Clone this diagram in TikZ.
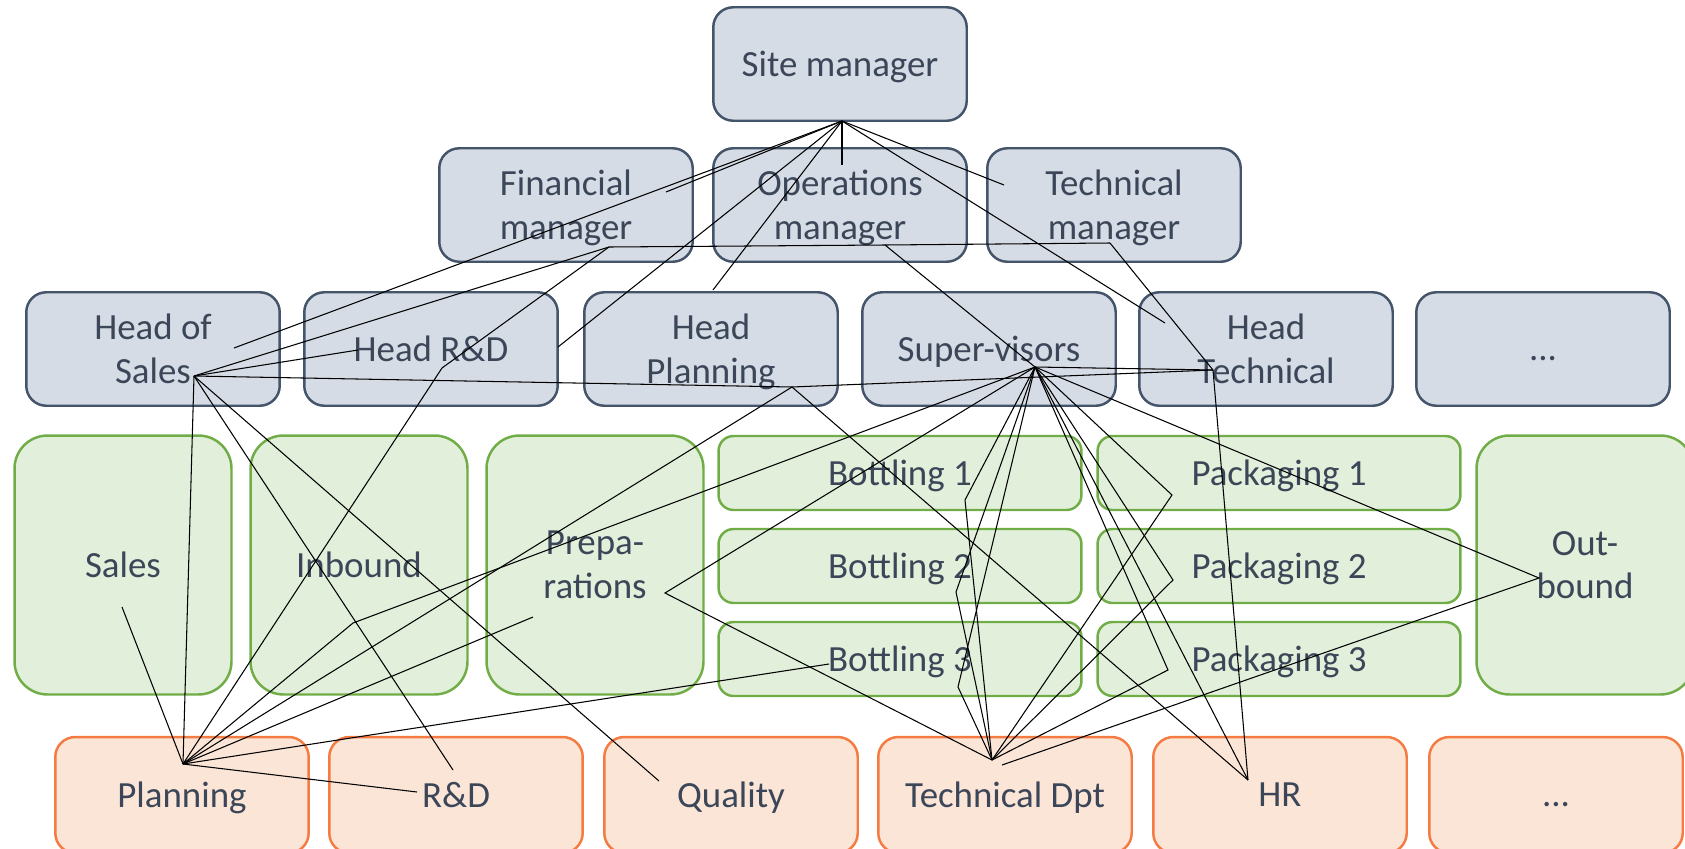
\documentclass[tikz,border=0pt]{standalone}
\usepackage{fontspec}
\setmainfont{Carlito}
\definecolor{slate}{HTML}{44546A}
\definecolor{slatefill}{HTML}{D6DCE5}
\definecolor{slatetext}{HTML}{3B4658}
\definecolor{leaf}{HTML}{70AD47}
\definecolor{leaffill}{HTML}{E2EFDA}
\definecolor{coral}{HTML}{F47B42}
\definecolor{coralfill}{HTML}{FBE5D6}
\tikzset{
	boxbase/.style={line width=1.4pt, text=slatetext, align=center,
		font=\fontsize{21}{25}\selectfont, inner sep=0pt, text depth=0pt},
	mgr/.style={boxbase, draw=slate, fill=slatefill, rounded corners=0.4cm,
		minimum width=5.07cm, minimum height=2.27cm},
	unit/.style={boxbase, draw=leaf, fill=leaffill, rounded corners=0.66cm,
		minimum width=4.34cm, minimum height=5.18cm},
	line/.style={boxbase, draw=leaf, fill=leaffill, rounded corners=0.3cm,
		minimum width=7.26cm, minimum height=1.48cm},
	dept/.style={boxbase, draw=coral, fill=coralfill, rounded corners=0.4cm,
		minimum width=5.07cm, minimum height=2.32cm},
	link/.style={line width=0.6pt, black}
}
\begin{document}
\begin{tikzpicture}[x=0.02cm, y=-0.02cm]
	\useasboundingbox (0,0) rectangle (1685,849);

	\node[mgr] (site) at (840,64) {Site manager};
	\node[mgr] (fin) at (566,205) {Financial\\manager};
	\node[mgr] (ops) at (840,205) {Operations\\manager};
	\node[mgr] (tech) at (1114,205) {Technical\\manager};

	\node[mgr] (hsales) at (153,349) {Head of\\Sales};
	\node[mgr] (hrd) at (431,349) {Head R\&D};
	\node[mgr] (hplan) at (711,349) {Head\\Planning};
	\node[mgr] (superv) at (989,349) {Super-visors};
	\node[mgr] (htech) at (1266,349) {Head\\Technical};
	\node[mgr] (hmore) at (1543,349) {\vphantom{H}...};

	\node[unit] (sales) at (123,565) {Sales};
	\node[unit] (inbound) at (359,565) {Inbound};
	\node[unit] (prep) at (595,565) {Prepa-\\rations};
	\node[line] (bot1) at (900,473) {Bottling 1};
	\node[line] (bot2) at (900,566) {Bottling 2};
	\node[line] (bot3) at (900,659) {Bottling 3};
	\node[line] (pack1) at (1279,473) {Packaging 1};
	\node[line] (pack2) at (1279,566) {Packaging 2};
	\node[line] (pack3) at (1279,659) {Packaging 3};
	\node[unit] (outbound) at (1585,565) {Out-\\bound};

	\node[dept] (plan) at (182,795) {Planning};
	\node[dept] (rd) at (456,795) {R\&D};
	\node[dept] (qual) at (731,795) {Quality};
	\node[dept] (techdpt) at (1005,795) {Technical Dpt};
	\node[dept] (hr) at (1280,795) {HR};
	\node[dept] (dmore) at (1556,795) {\vphantom{H}...};

	\coordinate[](smhub) at (842,121);
	\coordinate[](fmtip) at (666,192);
	\coordinate[](omtip) at (842,165);
	\coordinate[](tmtip) at (1004,185);
	\coordinate[](fmhub) at (609,247);
	\coordinate[](omhub) at (885,245);
	\coordinate[](tmhub) at (1110,243);
	\coordinate[](hstip) at (234,348);
	\coordinate[](hshub) at (194,376);
	\coordinate[](rdtipa) at (358,350);
	\coordinate[](rdtipb) at (442,368);
	\coordinate[](rdtipc) at (558,347);
	\coordinate[](hptip) at (713,290);
	\coordinate[](hphub) at (792,387);
	\coordinate[](svhub) at (1035,367);
	\coordinate[](hthub) at (1213,370);
	\coordinate[](httip) at (1165,323);
	\coordinate[](inbtip) at (353,623);
	\coordinate[](prephub) at (665,593);
	\coordinate[](preptip) at (533,617);
	\coordinate[](botatip) at (965,500);
	\coordinate[](botbtip) at (956,592);
	\coordinate[](botctip) at (958,687);
	\coordinate[](botcfront) at (829,664);
	\coordinate[](packatip) at (1172,495);
	\coordinate[](packbtip) at (1173,580);
	\coordinate[](packctip) at (1168,670);
	\coordinate[](outhub) at (1539,578);
	\coordinate[](tdhub) at (992,760);
	\coordinate[](tdtip) at (1002,765);
	\coordinate[](hrhub) at (1248,780);
	\coordinate[](planhub) at (183,764);
	\coordinate[](salestip) at (122,607);
	\coordinate[](rdlowa) at (417,792);
	\coordinate[](rdlowb) at (453,770);
	\coordinate[](qualtip) at (659,781);

	\draw[link] (smhub)--(fmtip);
	\draw[link] (smhub)--(omtip);
	\draw[link] (smhub)--(tmtip);
	\draw[link] (smhub)--(hstip);
	\draw[link] (smhub)--(rdtipc);
	\draw[link] (smhub)--(hptip);
	\draw[link] (smhub)--(httip);

	\draw[link] (fmhub)--(omhub)--(tmhub);
	\draw[link] (fmhub)--(hshub);
	\draw[link] (fmhub)--(rdtipb)--(planhub);
	\draw[link] (omhub)--(svhub);
	\draw[link] (tmhub)--(hthub)--(hrhub);

	\draw[link] (hshub)--(rdtipa);
	\draw[link] (hshub)--(hphub)--(hthub);
	\draw[link] (hshub)--(planhub);
	\draw[link] (hshub)--(rdlowb);
	\draw[link] (hshub)--(qualtip);
	\draw[link] (hphub)--(planhub);
	\draw[link] (hphub)--(hrhub);

	\draw[link] (svhub)--(hthub);
	\draw[link] (svhub)--(inbtip)--(planhub);
	\draw[link] (svhub)--(prephub)--(tdhub);
	\draw[link] (svhub)--(botatip)--(tdhub);
	\draw[link] (svhub)--(botbtip)--(tdhub);
	\draw[link] (svhub)--(botctip)--(tdhub);
	\draw[link] (svhub)--(packatip)--(tdhub);
	\draw[link] (svhub)--(packbtip)--(tdhub);
	\draw[link] (svhub)--(packctip)--(tdhub);
	\draw[link] (svhub)--(hrhub);
	\draw[link] (svhub)--(outhub)--(tdtip);

	\draw[link] (planhub)--(salestip);
	\draw[link] (planhub)--(preptip);
	\draw[link] (planhub)--(botcfront);
	\draw[link] (planhub)--(rdlowa);
\end{tikzpicture}
\end{document}
